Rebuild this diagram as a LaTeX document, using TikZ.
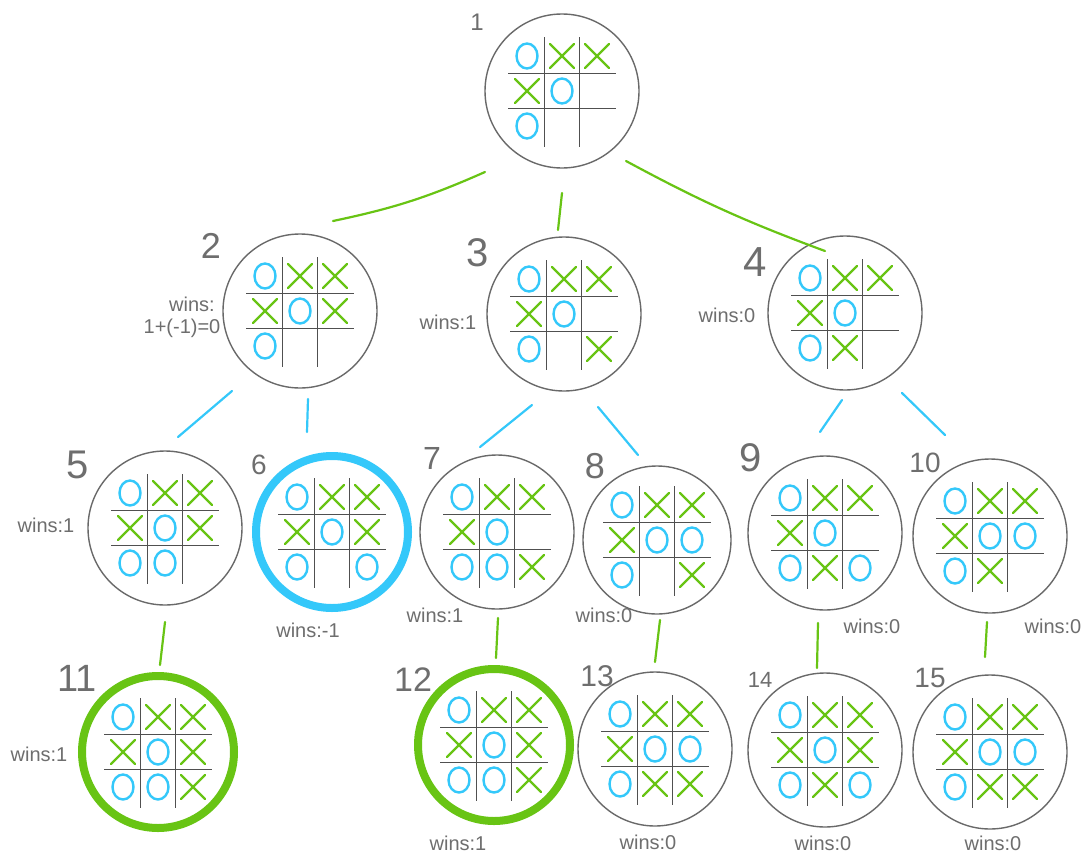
\documentclass[tikz,border=0pt]{standalone}
\usepackage{fontspec}
\setmainfont{Liberation Sans}
\definecolor{cblue}{RGB}{52,200,250}
\definecolor{cgreen}{RGB}{104,196,20}
\definecolor{cgray}{RGB}{105,105,105}
\definecolor{cgrid}{RGB}{80,80,80}
\definecolor{ctext}{RGB}{110,110,110}
\tikzset{
  board/.style={circle, draw=cgray, line width=1.4pt, minimum size=154pt, inner sep=0pt},
  bluewin/.style={board, draw=cblue, line width=8pt, minimum size=152pt},
  greenwin/.style={board, draw=cgreen, line width=8pt, minimum size=152pt},
  gline/.style={draw=cgreen, line width=2.2pt, line cap=round},
  bline/.style={draw=cblue, line width=2.2pt, line cap=round},
  gridline/.style={draw=cgrid, line width=1.3pt},
  omark/.style={draw=cblue, line width=2.4pt},
  xmark/.style={draw=cgreen, line width=2.4pt, line cap=round},
  num/.style={text=ctext, inner sep=0pt},
  wins/.style={text=ctext, inner sep=0pt, font=\fontsize{20}{24}\selectfont},
}
\newcommand\tttboard[2]{%
  \begin{scope}[shift={(#1.center)}]
    \draw[gridline] (-54,-17.5) -- (54,-17.5) (-54,17.5) -- (54,17.5)
                    (-17.5,-54) -- (-17.5,56) (17.5,-54) -- (17.5,56);
    \foreach \m [count=\i from 0] in {#2} {
      \pgfmathsetmacro\xx{35*(mod(\i,3)-1)}
      \pgfmathsetmacro\yy{35*(int(\i/3)-1)}
      \if o\m \draw[omark] (\xx,\yy) ellipse (10.5 and 12.5); \fi
      \if x\m \draw[xmark] (\xx-12,\yy-12) -- (\xx+12,\yy+12) (\xx+12,\yy-12) -- (\xx-12,\yy+12); \fi
    }
  \end{scope}}
\begin{document}
\begin{tikzpicture}[x=1pt,y=-1pt]
\useasboundingbox[fill=white] (0,0) rectangle (1092,857);
% nodes
\node[board] (n1) at (562,91) {};
\node[board] (n2) at (300,311) {};
\node[board] (n3) at (564,314) {};
\node[board] (n4) at (845,313) {};
\node[board] (n5) at (165,528) {};
\node[bluewin] (n6) at (332,532) {};
\node[board] (n7) at (497,532) {};
\node[board, minimum size=148pt] (n8) at (657,540) {};
\node[board] (n9) at (825,533) {};
\node[board] (n10) at (990,536) {};
\node[greenwin] (n11) at (158,752) {};
\node[greenwin] (n12) at (494,745) {};
\node[board] (n13) at (655,749) {};
\node[board] (n14) at (825,750) {};
\node[board] (n15) at (990,752) {};
% boards
\tttboard{n1}{o,x,x,x,o,e,o,e,e}
\tttboard{n2}{o,x,x,x,o,x,o,e,e}
\tttboard{n3}{o,x,x,x,o,e,o,e,x}
\tttboard{n4}{o,x,x,x,o,e,o,x,e}
\tttboard{n5}{o,x,x,x,o,x,o,o,e}
\tttboard{n6}{o,x,x,x,o,x,o,e,o}
\tttboard{n7}{o,x,x,x,o,e,o,o,x}
\tttboard{n8}{o,x,x,x,o,o,o,e,x}
\tttboard{n9}{o,x,x,x,o,e,o,x,o}
\tttboard{n10}{o,x,x,x,o,o,o,x,e}
\tttboard{n11}{o,x,x,x,o,x,o,o,x}
\tttboard{n12}{o,x,x,x,o,x,o,o,x}
\tttboard{n13}{o,x,x,x,o,o,o,x,x}
\tttboard{n14}{o,x,x,x,o,x,o,x,o}
\tttboard{n15}{o,x,x,x,o,o,o,x,x}
% connectors
\draw[gline] ([shift={(-77,81)}]n1.center) to[bend left=6] ([shift={(33,-90)}]n2.center);
\draw[gline] ([shift={(0,102)}]n1.center) -- ([shift={(-6,-84)}]n3.center);
\draw[gline] ([shift={(64,70)}]n1.center) to[bend right=4] ([shift={(-20,-62)}]n4.center);
\draw[bline] ([shift={(-68,80)}]n2.center) -- ([shift={(13,-91)}]n5.center);
\draw[bline] ([shift={(8,88)}]n2.center) -- ([shift={(-25,-100)}]n6.center);
\draw[bline] ([shift={(-32,91)}]n3.center) -- ([shift={(-17,-85)}]n7.center);
\draw[bline] ([shift={(34,93)}]n3.center) -- ([shift={(-19,-85)}]n8.center);
\draw[bline] ([shift={(-3,87)}]n4.center) -- ([shift={(-5,-101)}]n9.center);
\draw[bline] ([shift={(57,80)}]n4.center) -- ([shift={(-45,-101)}]n10.center);
\draw[gline] ([shift={(0,94)}]n5.center) -- ([shift={(2,-87)}]n11.center);
\draw[gline] ([shift={(1,86)}]n7.center) -- ([shift={(2,-87)}]n12.center);
\draw[gline] ([shift={(3,80)}]n8.center) -- ([shift={(0,-87)}]n13.center);
\draw[gline] ([shift={(-7,90)}]n9.center) -- ([shift={(-8,-82)}]n14.center);
\draw[gline] ([shift={(-3,86)}]n10.center) -- ([shift={(-5,-95)}]n15.center);
% numbers
\node[num, font=\fontsize{24}{28}\selectfont] (l1) at (477,22) {1};
\node[num, font=\fontsize{36}{40}\selectfont] (l2) at (211,246) {2};
\node[num, font=\fontsize{40}{44}\selectfont] (l3) at (478,253) {3};
\node[num, font=\fontsize{42}{46}\selectfont] (l4) at (755,262) {4};
\node[num, font=\fontsize{40}{44}\selectfont] (l5) at (78,465) {5};
\node[num, font=\fontsize{28}{32}\selectfont] (l6) at (259,465) {6};
\node[num, font=\fontsize{32}{36}\selectfont] (l7) at (432,458) {7};
\node[num, font=\fontsize{36}{40}\selectfont] (l8) at (595,466) {8};
\node[num, font=\fontsize{40}{44}\selectfont] (l9) at (751,458) {9};
\node[num, font=\fontsize{28}{32}\selectfont] (l10) at (925,463) {10};
\node[num, font=\fontsize{38}{42}\selectfont] (l11) at (77,678) {11};
\node[num, font=\fontsize{34}{38}\selectfont] (l12) at (413,680) {12};
\node[num, font=\fontsize{30}{34}\selectfont] (l13) at (597,676) {13};
\node[num, font=\fontsize{22}{26}\selectfont] (l14) at (760,680) {14};
\node[num, font=\fontsize{28}{32}\selectfont] (l15) at (930,678) {15};
% wins labels
\node[wins] (w2a) at (192,304) {wins:};
\node[wins] (w2b) at (182,328) {1+(-1)=0};
\node[wins] (w3) at (448,322) {wins:1};
\node[wins] (w4) at (727,315) {wins:0};
\node[wins] (w5) at (46,525) {wins:1};
\node[wins] (w6) at (308,630) {wins:-1};
\node[wins] (w7) at (435,615) {wins:1};
\node[wins] (w8) at (604,615) {wins:0};
\node[wins] (w9) at (872,626) {wins:0};
\node[wins] (w10) at (1053,626) {wins:0};
\node[wins] (w11) at (39,754) {wins:1};
\node[wins] (w12) at (458,843) {wins:1};
\node[wins] (w13) at (648,842) {wins:0};
\node[wins] (w14) at (823,843) {wins:0};
\node[wins] (w15) at (993,843) {wins:0};
\end{tikzpicture}
\end{document}
